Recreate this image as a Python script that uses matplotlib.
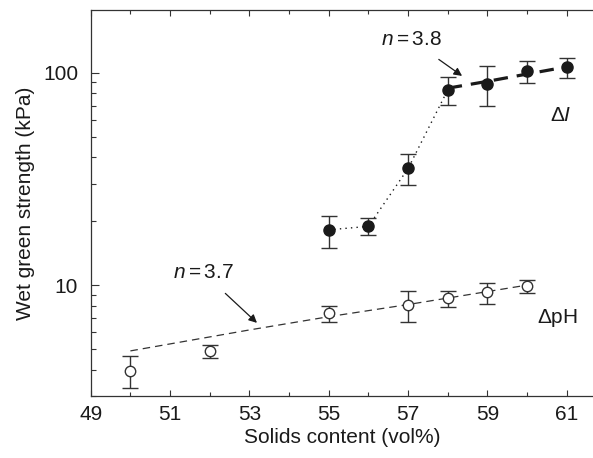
import matplotlib
matplotlib.use("Agg")
import matplotlib.pyplot as plt
import numpy as np
from matplotlib.ticker import MultipleLocator, LogLocator, NullFormatter, FixedLocator, FixedFormatter

plt.rcParams['font.family'] = ['Liberation Sans', 'DejaVu Sans']
plt.rcParams['mathtext.fontset'] = 'custom'
plt.rcParams['mathtext.rm'] = 'Liberation Sans'
plt.rcParams['mathtext.it'] = 'Liberation Sans:italic'

# delta I series (filled circles)
x_di = [55, 56, 57, 58, 59, 60, 61]
y_di = [18.2, 18.9, 35.4, 83.0, 88.5, 102.0, 106.0]
lo_di = [15.0, 17.3, 29.7, 70.5, 70.0, 89.7, 94.7]
hi_di = [21.2, 20.7, 41.5, 95.7, 107.5, 113.5, 116.9]

# delta pH series (open circles)
x_ph = [50, 52, 55, 57, 58, 59, 60]
y_ph = [3.96, 4.89, 7.40, 8.09, 8.70, 9.25, 9.95]
lo_ph = [3.27, 4.53, 6.71, 6.71, 7.91, 8.19, 9.19]
hi_ph = [4.66, 5.25, 8.01, 9.35, 9.35, 10.24, 10.6]

# fitted lines
fit_di_x = [58, 59, 60, 61]
fit_di_y = [84.5, 91.0, 98.5, 106.5]
fit_ph_x = [50, 53, 55, 57, 60]
fit_ph_y = [4.9, 6.15, 7.1, 8.1, 10.0]

x_ticks = [49, 51, 53, 55, 57, 59, 61]

fig = plt.figure(figsize=(5.93, 4.58), dpi=100)
ax = fig.add_axes([0.153, 0.135, 0.847, 0.843])
ink = '#1a1a1a'
fs = 15

# connecting / fit lines
ax.plot(x_di[:4], y_di[:4], color=ink, lw=1.0, linestyle=(0, (1, 3)), zorder=1)
ax.plot(fit_di_x, fit_di_y, color=ink, lw=2.3, dashes=(4.5, 2.8), zorder=1)
ax.plot(fit_ph_x, fit_ph_y, color='#333333', lw=0.9, dashes=(6, 4), zorder=1)

# error bars
err_di = [np.array(y_di) - np.array(lo_di), np.array(hi_di) - np.array(y_di)]
err_ph = [np.array(y_ph) - np.array(lo_ph), np.array(hi_ph) - np.array(y_ph)]
ax.errorbar(x_di, y_di, yerr=err_di, fmt='o', ms=8, mfc=ink, mec=ink,
            ecolor='#333333', elinewidth=1.0, capsize=6, capthick=1.0, zorder=3)
ax.errorbar(x_ph, y_ph, yerr=err_ph, fmt='o', ms=7.5, mfc='white', mec='#333333',
            mew=1.0, ecolor='#333333', elinewidth=1.0, capsize=6, capthick=1.0, zorder=2)

ax.set_yscale('log')
ax.set_xlim(49, 61.66)
ax.set_ylim(3, 197)

ax.xaxis.set_major_locator(FixedLocator(x_ticks))
ax.xaxis.set_minor_locator(MultipleLocator(1))
ax.yaxis.set_major_locator(FixedLocator([10, 100]))
ax.yaxis.set_major_formatter(FixedFormatter(['10', '100']))
ax.yaxis.set_minor_locator(LogLocator(base=10, subs=np.arange(2, 10)))
ax.yaxis.set_minor_formatter(NullFormatter())

ax.tick_params(axis='both', which='both', direction='in', colors='#333333',
               labelcolor=ink, labelsize=fs, width=0.8)
ax.tick_params(axis='x', which='both', top=True, pad=6)
ax.tick_params(axis='x', which='major', length=4)
ax.tick_params(axis='x', which='minor', length=3)
ax.tick_params(axis='y', which='major', length=6, pad=9)
ax.tick_params(axis='y', which='minor', length=3.5)

for s in ['left', 'bottom', 'top']:
    ax.spines[s].set_color('#333333')
    ax.spines[s].set_linewidth(0.9)
ax.spines['right'].set_visible(False)

ax.set_xlabel('Solids content (vol%)', fontsize=fs, color=ink, labelpad=3)
ax.set_ylabel('Wet green strength (kPa)', fontsize=fs, color=ink, labelpad=6)

ax.annotate(r'$n = 3.8$', xy=(58.36, 96.5), xytext=(57.08, 142.6),
            ha='center', va='center', fontsize=fs, color=ink,
            arrowprops=dict(arrowstyle='-|>', color=ink, lw=0.9,
                            mutation_scale=12, shrinkA=9, shrinkB=0))
ax.annotate(r'$n = 3.7$', xy=(53.19, 6.64), xytext=(51.83, 11.45),
            ha='center', va='center', fontsize=fs, color=ink,
            arrowprops=dict(arrowstyle='-|>', color=ink, lw=0.9,
                            mutation_scale=12, shrinkA=9, shrinkB=0))

ax.text(60.84, 62.6, r'$\Delta I$', ha='center', va='center', fontsize=fs, color=ink)
ax.text(60.76, 7.0, r'$\Delta$pH', ha='center', va='center', fontsize=fs, color=ink)

fig.savefig('out.png', dpi=100)
